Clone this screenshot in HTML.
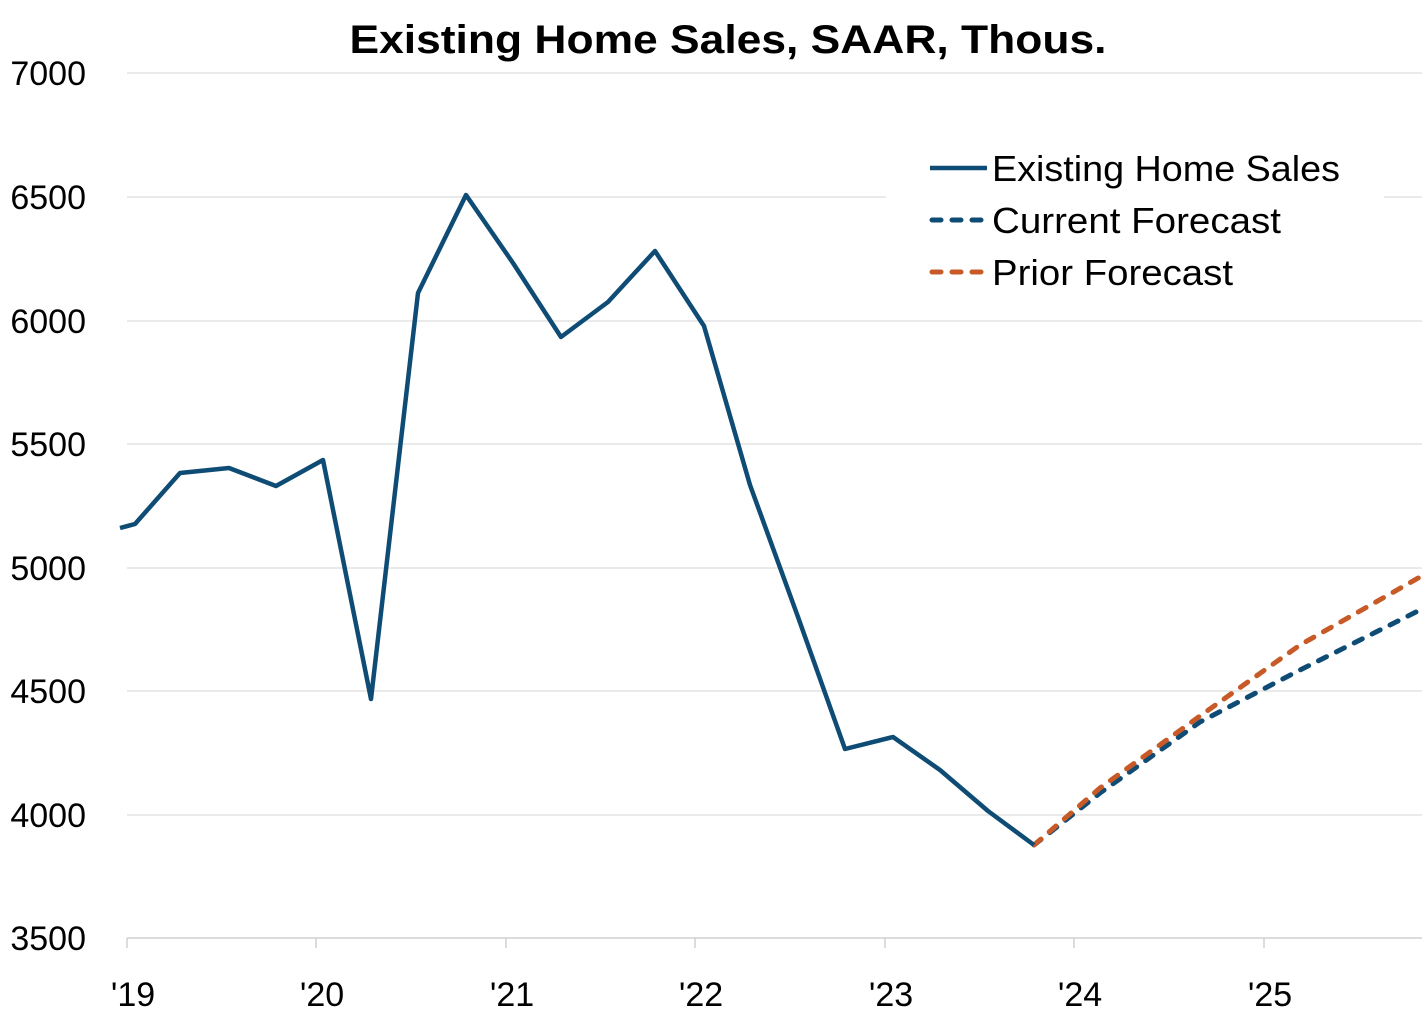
<!DOCTYPE html>
<html><head><meta charset="utf-8"><style>
html,body{margin:0;padding:0;background:#fff;}
svg{display:block;font-family:"Liberation Sans",sans-serif;}
</style></head><body>
<svg width="1422" height="1033" viewBox="0 0 1422 1033">
<text x="728" y="53" text-anchor="middle" font-size="40" font-weight="bold" textLength="757" lengthAdjust="spacingAndGlyphs" fill="#000">Existing Home Sales, SAAR, Thous.</text>
<g stroke="#e3e3e3" stroke-width="1.5">
<line x1="127" y1="73" x2="1422" y2="73"/>
<line x1="127" y1="197" x2="1422" y2="197"/>
<line x1="127" y1="321" x2="1422" y2="321"/>
<line x1="127" y1="444" x2="1422" y2="444"/>
<line x1="127" y1="568" x2="1422" y2="568"/>
<line x1="127" y1="691" x2="1422" y2="691"/>
<line x1="127" y1="815" x2="1422" y2="815"/>
</g>
<g stroke="#d0d0d0" stroke-width="1.5">
<line x1="127" y1="938" x2="1422" y2="938"/>
<line x1="127" y1="938" x2="127" y2="948"/>
<line x1="316" y1="938" x2="316" y2="948"/>
<line x1="506" y1="938" x2="506" y2="948"/>
<line x1="695" y1="938" x2="695" y2="948"/>
<line x1="885" y1="938" x2="885" y2="948"/>
<line x1="1074" y1="938" x2="1074" y2="948"/>
<line x1="1264" y1="938" x2="1264" y2="948"/>
</g>
<g font-size="34" fill="#000" text-anchor="end">
<text x="86" y="85">7000</text>
<text x="86" y="209">6500</text>
<text x="86" y="333">6000</text>
<text x="86" y="456">5500</text>
<text x="86" y="580">5000</text>
<text x="86" y="703">4500</text>
<text x="86" y="827">4000</text>
<text x="86" y="950">3500</text>
</g>
<g font-size="34" fill="#000" text-anchor="middle">
<text x="133" y="1006">'19</text>
<text x="322" y="1006">'20</text>
<text x="512" y="1006">'21</text>
<text x="701" y="1006">'22</text>
<text x="891" y="1006">'23</text>
<text x="1080" y="1006">'24</text>
<text x="1270" y="1006">'25</text>
</g>
<rect x="886" y="140" width="498" height="160" fill="#fff"/>
<polyline fill="none" stroke="#0f4c75" stroke-width="5" stroke-linecap="round" stroke-dasharray="9,11" points="1034,845 1100,793 1200,722 1300,670 1420,610"/>
<polyline fill="none" stroke="#c85a28" stroke-width="5" stroke-linecap="round" stroke-dasharray="9,11" points="1034,845 1100,788 1200,716 1300,645 1420,577"/>
<polyline fill="none" stroke="#0f4c75" stroke-width="4.5" stroke-linejoin="round" points="120,528 135,524 180,473 229,468 276,486 323,460 371,699 418,293 466,195 513,263 561,337 608,302 655,251 704,326 750,485 798,617 845,749 893,737 940,770 988,811 1034,845"/>
<line x1="930" y1="168" x2="987" y2="168" stroke="#0f4c75" stroke-width="4.5"/>
<line x1="932" y1="220" x2="987" y2="220" stroke="#0f4c75" stroke-width="5" stroke-linecap="round" stroke-dasharray="9,11"/>
<line x1="932" y1="272" x2="987" y2="272" stroke="#c85a28" stroke-width="5" stroke-linecap="round" stroke-dasharray="9,11"/>
<g font-size="36" fill="#000">
<text x="992" y="181" textLength="348" lengthAdjust="spacingAndGlyphs">Existing Home Sales</text>
<text x="992" y="233" textLength="289" lengthAdjust="spacingAndGlyphs">Current Forecast</text>
<text x="992" y="285" textLength="241" lengthAdjust="spacingAndGlyphs">Prior Forecast</text>
</g>
</svg>
</body></html>
